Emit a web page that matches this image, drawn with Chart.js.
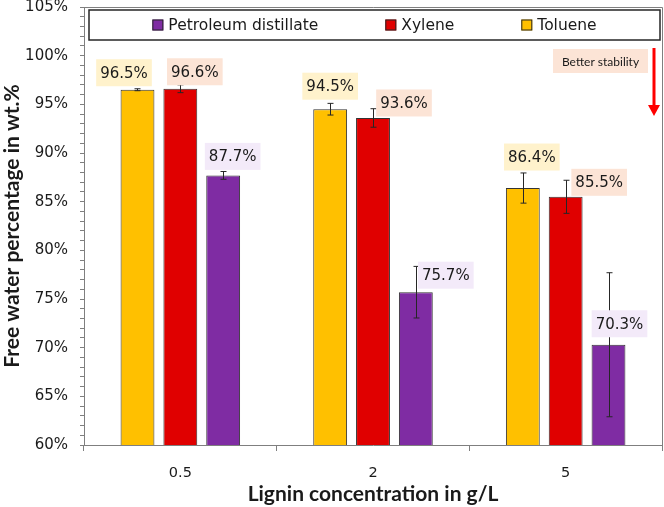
<!DOCTYPE html>
<html>
<head>
<meta charset="utf-8">
<script src="https://cdn.jsdelivr.net/npm/chart.js@4.4.1/dist/chart.umd.min.js"></script>
<style>
  html, body { margin: 0; padding: 0; background: #fff; }
  #wrap { width: 664px; height: 507px; }
</style>
</head>
<body>
<div id="wrap"><canvas id="chart" width="664" height="507"></canvas></div>
<script>
// data
const categories = ['0.5', '2', '5'];
const seriesNames = ['Toluene', 'Xylene', 'Petroleum distillate'];
const toluene = [96.5, 94.5, 86.4];
const xylene = [96.6, 93.6, 85.5];
const petroleum = [87.7, 75.7, 70.3];
const tolueneErr = [0.1, 0.6, 1.55];
const xyleneErr = [0.4, 0.95, 1.7];
const petroleumErr = [0.4, 2.65, 7.4];
const yMin = 60, yMax = 105, yStep = 5;

// styling
const barColors = ['#FFC000', '#E00000', '#7F2CA3'];
const labelBg = ['#FFF2CC', '#FCE4D6', '#F3EAF9'];
// label offsets from bar top centre: [dx, dy above]
const labelShift = [
    [[-13.5, 17], [0, 23], [9, 31]],
    [[14.5, 17], [31, 15], [33.5, 14.5]],
    [[9.5, 19], [30, 17], [11, 21]]
];
const errors = [tolueneErr, xyleneErr, petroleumErr];
const axisGrey = '#7f7f7f';

const errorAndLabels = {
    id: 'errorAndLabels',
    afterDatasetsDraw(chart) {
        const c = chart.ctx;
        const y = chart.scales.y;
        c.save();
        // error bars
        c.strokeStyle = '#262626';
        c.lineWidth = 1;
        chart.data.datasets.forEach((ds, i) => {
            const meta = chart.getDatasetMeta(i);
            meta.data.forEach((bar, j) => {
                const v = ds.data[j], e = errors[i][j];
                const x = Math.round(bar.x) + 0.5;
                const yt = y.getPixelForValue(v + e);
                const yb = y.getPixelForValue(v - e);
                c.beginPath();
                c.moveTo(x, yt); c.lineTo(x, yb);
                c.moveTo(x - 3, yt); c.lineTo(x + 3, yt);
                c.moveTo(x - 3, yb); c.lineTo(x + 3, yb);
                c.stroke();
            });
        });
        // value labels
        c.font = '15px "DejaVu Sans"';
        c.textAlign = 'center';
        c.textBaseline = 'middle';
        chart.data.datasets.forEach((ds, i) => {
            const meta = chart.getDatasetMeta(i);
            meta.data.forEach((bar, j) => {
                const txt = ds.data[j].toFixed(1) + '%';
                const [dx, dy] = labelShift[i][j];
                const cx = bar.x + dx, cy = bar.y - dy;
                const w = c.measureText(txt).width + 8;
                c.fillStyle = labelBg[i];
                c.fillRect(cx - w / 2, cy - 13.5, w, 27);
                c.fillStyle = '#1a1a1a';
                c.fillText(txt, cx, cy + 1);
            });
        });
        c.restore();
    },
    afterDraw(chart) {
        const c = chart.ctx;
        const a = chart.chartArea;
        c.save();
        // plot border (top / right)
        c.strokeStyle = axisGrey;
        c.lineWidth = 1;
        c.beginPath();
        c.moveTo(a.left, a.top + 0.5); c.lineTo(a.right + 0.5, a.top + 0.5);
        c.lineTo(a.right + 0.5, a.bottom);
        c.stroke();

        // legend box
        const bx = a.left + 5, by = a.top + 3, bw = a.right - 2 - bx, bh = 30;
        c.fillStyle = '#fff';
        c.fillRect(bx, by, bw, bh);
        c.strokeStyle = '#262626';
        c.lineWidth = 1.5;
        c.strokeRect(bx, by, bw, bh);
        c.font = '15.5px "DejaVu Sans"';
        c.textBaseline = 'middle';
        c.textAlign = 'left';
        const order = [2, 1, 0];
        const sq = 11, gapIn = 5, gapOut = 67;
        let total = 0;
        order.forEach((k, n) => {
            total += sq + gapIn + c.measureText(seriesNames[k]).width + (n < 2 ? gapOut : 0);
        });
        let lx = bx + bw / 2 - total / 2;
        const ly = by + bh / 2;
        order.forEach(k => {
            c.fillStyle = barColors[k];
            c.fillRect(lx, ly - sq / 2, sq, sq);
            c.strokeStyle = '#262626';
            c.lineWidth = 1;
            c.strokeRect(lx + 0.5, ly - sq / 2 + 0.5, sq - 1, sq - 1);
            c.fillStyle = '#1a1a1a';
            c.fillText(seriesNames[k], lx + sq + gapIn, ly + 1);
            lx += sq + gapIn + c.measureText(seriesNames[k]).width + gapOut;
        });

        // "Better stability" note and arrow
        c.fillStyle = '#FCE4D6';
        c.fillRect(a.right - 109, a.top + 42, 95, 24);
        c.fillStyle = '#1a1a1a';
        c.font = '12px Lato';
        c.textAlign = 'center';
        c.fillText('Better stability', a.right - 61.5, a.top + 55);
        const ax = a.right - 8;
        c.strokeStyle = '#FF0000';
        c.lineWidth = 3;
        c.beginPath();
        c.moveTo(ax, a.top + 41); c.lineTo(ax, a.top + 100);
        c.stroke();
        c.fillStyle = '#FF0000';
        c.beginPath();
        c.moveTo(ax - 6, a.top + 98); c.lineTo(ax + 6, a.top + 98); c.lineTo(ax, a.top + 109);
        c.closePath();
        c.fill();
        c.restore();
    }
};

const ctx = document.getElementById('chart').getContext('2d');
const chart = new Chart(ctx, {
    type: 'bar',
    data: {
        labels: categories,
        datasets: [toluene, xylene, petroleum].map((d, i) => ({
            label: seriesNames[i],
            data: d,
            backgroundColor: barColors[i],
            borderColor: '#333333',
            borderWidth: 1,
            borderSkipped: false,
            categoryPercentage: 0.667,
            barPercentage: 0.79
        }))
    },
    options: {
        responsive: false,
        animation: false,
        layout: { padding: { top: 7, right: 2, left: 0, bottom: 0 } },
        plugins: { legend: { display: false }, tooltip: { enabled: false } },
        scales: {
            x: {
                offset: true,
                grid: { offset: true, drawOnChartArea: false, tickLength: 6, color: axisGrey },
                border: { color: axisGrey },
                ticks: { font: { family: 'DejaVu Sans', size: 14.5 }, color: '#1a1a1a', padding: 14 },
                title: {
                    display: true, text: 'Lignin concentration in g/L',
                    font: { family: 'Lato', size: 21, weight: 'bold' }, color: '#1a1a1a',
                    padding: { top: 0, bottom: 0 }
                },
                afterFit: s => { s.height = 62; s.paddingLeft = 0; s.paddingRight = 0; }
            },
            y: {
                min: yMin, max: yMax,
                grid: { drawOnChartArea: false, tickLength: 4, color: axisGrey },
                border: { color: axisGrey },
                ticks: {
                    stepSize: 1, autoSkip: false, padding: 12,
                    font: { family: 'DejaVu Sans', size: 15, lineHeight: 0.9 }, color: '#1a1a1a',
                    callback: v => (v % yStep === 0 ? v + '%' : '')
                },
                title: {
                    display: true, text: 'Free water percentage in wt.%',
                    font: { family: 'Lato', size: 21, weight: 'bold' }, color: '#1a1a1a',
                    padding: { top: 0, bottom: 0 }
                },
                afterFit: s => { s.width = 84; s.paddingTop = 0; s.paddingBottom = 0; }
            }
        }
    },
    plugins: [errorAndLabels]
});
</script>
</body>
</html>
